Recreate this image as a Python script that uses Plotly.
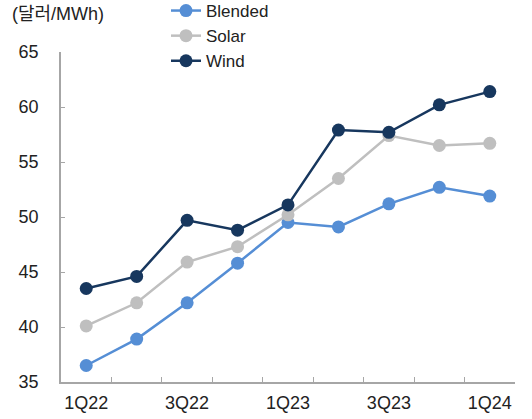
import plotly.graph_objects as go

quarters = ["1Q22", "2Q22", "3Q22", "4Q22", "1Q23", "2Q23", "3Q23", "4Q23", "1Q24"]
blended = [36.5, 38.9, 42.2, 45.8, 49.5, 49.1, 51.2, 52.7, 51.9]
solar = [40.1, 42.2, 45.9, 47.3, 50.2, 53.5, 57.4, 56.5, 56.7]
wind = [43.5, 44.6, 49.7, 48.8, 51.1, 57.9, 57.7, 60.2, 61.4]

series = [
    ("Blended", blended, "#558ed5"),
    ("Solar", solar, "#bfbfbf"),
    ("Wind", wind, "#17375e"),
]

FONT = "Liberation Sans, Arial, Noto Sans CJK KR, sans-serif"
AXIS = "#a6a6a6"

fig = go.Figure()
for name, vals, color in series:
    fig.add_trace(go.Scatter(
        x=quarters, y=vals, name=name, mode="lines+markers",
        line=dict(color=color, width=2.5),
        marker=dict(color=color, size=13),
    ))

tick_text = [q if i % 2 == 0 else "" for i, q in enumerate(quarters)]

fig.update_layout(
    width=532, height=419,
    margin=dict(l=61, r=17, t=52, b=37, autoexpand=False),
    plot_bgcolor="white", paper_bgcolor="white",
    font=dict(family=FONT, size=18, color="#222222"),
    showlegend=True,
    legend=dict(
        x=(166 - 61) / 454, y=(382 + 7) / 330, xanchor="left", yanchor="top",
        bgcolor="rgba(0,0,0,0)", font=dict(size=17),
        tracegroupgap=0,
    ),
    xaxis=dict(
        type="category", range=[-0.5, 8.5],
        tickmode="array", tickvals=quarters, ticktext=tick_text,
        tickson="boundaries", ticks="inside", ticklen=5, tickcolor=AXIS,
        showline=True, linecolor=AXIS, linewidth=1.5, showgrid=False,
        zeroline=False, ticklabelstandoff=4, tickangle=0,
    ),
    yaxis=dict(
        range=[35, 65], dtick=5, tick0=35,
        ticks="inside", ticklen=4, tickcolor=AXIS,
        showline=True, linecolor=AXIS, linewidth=1.5, showgrid=False,
        zeroline=False, ticklabelstandoff=17,
    ),
    annotations=[dict(
        text="(달러/MWh)", xref="paper", yref="paper",
        x=(10 - 61) / 454, y=(382 - 14) / 330, xanchor="left", yanchor="middle",
        showarrow=False, font=dict(size=18, family=FONT),
    )],
)

fig.write_html("out.html")
